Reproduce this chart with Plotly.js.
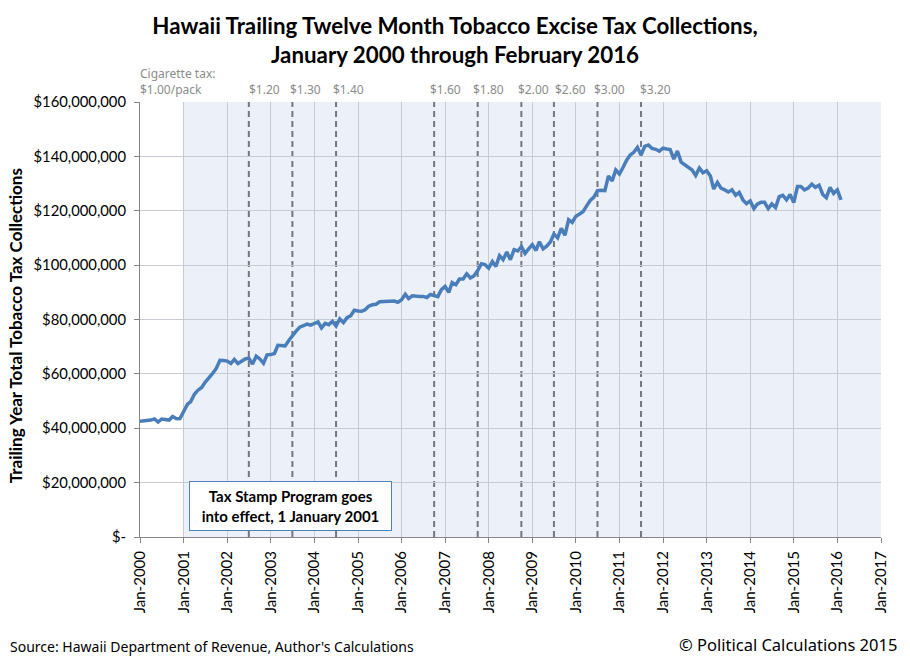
<!DOCTYPE html>
<html>
<head>
<meta charset="utf-8">
<script src="https://cdn.plot.ly/plotly-3.0.1.min.js"></script>
<style>html,body{margin:0;padding:0;background:#fff}</style>
</head>
<body>
<div id="chart" style="width:910px;height:660px"></div>
<script>
// Trailing twelve month collections, $ millions, monthly from Jan 2000
const y2000 = [42.6,42.7,42.9,43.0,43.4,42.3,43.4,43.3,43.0,44.3,43.5,43.6];
const y2001 = [46.0,48.8,49.8,52.5,54.0,55.0,57.0,58.5,60.2,62.0,65.0,64.9];
const y2002 = [64.7,63.8,65.3,63.8,64.6,65.5,65.8,63.6,66.5,65.5,63.9,67.0];
const y2003 = [67.1,67.5,70.5,70.4,70.3,72.3,74.2,75.7,77.2,77.9,78.3,77.9];
const y2004 = [78.5,79.1,76.9,78.6,78.1,79.3,77.6,80.2,78.9,80.7,81.4,83.4];
const y2005 = [83.1,83.0,83.6,84.9,85.4,85.6,86.5,86.6,86.5,86.8,86.8,86.3];
const y2006 = [87.3,89.3,87.7,88.7,88.5,88.5,88.5,88.1,89.2,88.8,88.4,91.0];
const y2007 = [92.2,90.0,93.6,92.8,94.9,94.9,96.8,95.3,96.1,98.0,100.5,100.2];
const y2008 = [98.9,101.3,99.5,103.5,102.0,104.8,102.0,105.7,105.2,106.8,104.3,106.0];
const y2009 = [107.5,105.4,108.6,106.0,107.0,108.5,111.4,110.0,113.5,111.0,116.7,115.7];
const y2010 = [118.0,118.8,119.6,121.8,123.8,125.0,127.4,127.5,127.4,132.8,131.0,135.0];
const y2011 = [133.5,136.0,138.5,140.5,141.5,143.3,140.5,143.7,144.2,142.9,142.6,141.9];
const y2012 = [143.0,142.7,142.5,139.0,142.0,137.9,137.0,135.8,135.0,133.0,135.7,134.0];
const y2013 = [134.7,132.8,128.0,130.4,128.3,127.7,126.9,127.7,125.7,126.7,124.0,122.6];
const y2014 = [123.6,120.8,122.4,123.1,123.1,120.8,122.5,121.2,125.2,125.7,124.0,126.0];
const y2015 = [123.0,128.9,128.9,127.7,128.3,129.8,128.6,129.4,126.0,124.8,128.6,126.4];
const y2016 = [127.7,124.0];
const collections = [].concat(y2000,y2001,y2002,y2003,y2004,y2005,y2006,y2007,y2008,y2009,y2010,y2011,y2012,y2013,y2014,y2015,y2016);

const taxDates = ['2002-07-01','2003-07-01','2004-07-01','2006-10-01','2007-10-01','2008-10-01','2009-07-01','2010-07-01','2011-07-01'];
const taxLabels = ['$1.20','$1.30','$1.40','$1.60','$1.80','$2.00','$2.60','$3.00','$3.20'];

const yTickVals = [0,20,40,60,80,100,120,140,160];
const yTickText = ['$-','$20,000,000','$40,000,000','$60,000,000','$80,000,000','$100,000,000','$120,000,000','$140,000,000','$160,000,000'];

const dates = collections.map((_, i) => {
  const yr = 2000 + Math.floor(i / 12), m = (i % 12) + 1;
  return yr + '-' + String(m).padStart(2, '0') + '-01';
});

const FONT = 'Lato, sans-serif';
const NOTE = '"Noto Sans", sans-serif';
const labelNudge = [-2,-4,-5,-6,-7,-5,-1,-5,-3];

const shapes = [{
  type:'rect', layer:'below', xref:'x', yref:'paper', x0:'2001-01-01', x1:'2017-01-01', y0:0, y1:1,
  fillcolor:'#ECF1F9', line:{width:0}
}].concat(taxDates.map(d => ({
  type:'line', layer:'between', xref:'x', yref:'paper', x0:d, x1:d, y0:0, y1:1,
  line:{color:'#74767F', width:2, dash:'6px,4px'}
})));

const annotations = taxDates.map((d,i) => ({
  xref:'x', yref:'paper', x:d, y:1, xanchor:'left', yanchor:'bottom', yshift:2, xshift:labelNudge[i], showarrow:false,
  text:taxLabels[i], font:{family:NOTE, size:12, color:'#8C8C8C'}
})).concat([
  {xref:'x', yref:'paper', x:'2000-01-01', y:1, xanchor:'left', yanchor:'bottom', xshift:-2, yshift:2, showarrow:false, align:'left',
   text:'Cigarette tax:<br>$1.00/pack', font:{family:NOTE, size:12, color:'#8C8C8C'}},
  {xref:'paper', yref:'paper', x:0.2031, y:0.0724, xanchor:'center', yanchor:'middle', showarrow:false,
   text:'<b>Tax Stamp Program goes<br>into effect, 1 January 2001</b>', font:{family:FONT, size:15, color:'#000'},
   bgcolor:'#FFFFFF', bordercolor:'#4F81BD', borderwidth:1, width:199, height:46},
  {xref:'paper', yref:'paper', x:-0.1781, y:-0.2517, xanchor:'left', yanchor:'middle', showarrow:false,
   text:'Source: Hawaii Department of Revenue, Author\'s Calculations', font:{family:NOTE, size:14, color:'#000'}},
  {xref:'paper', yref:'paper', x:1.0243, y:-0.246, xanchor:'right', yanchor:'middle', showarrow:false,
   text:'© Political Calculations 2015', font:{family:NOTE, size:16.5, color:'#000'}},
  {xref:'paper', yref:'paper', x:-0.1687, y:0.487, xanchor:'center', yanchor:'middle', textangle:-90, showarrow:false,
   text:'<b>Trailing Year Total Tobacco Tax Collections</b>', font:{family:FONT, size:17, color:'#000'}}
]);

const trace = {
  type:'scatter', mode:'lines', x:dates, y:collections,
  line:{color:'#4A7EBB', width:3.5}, hoverinfo:'x+y'
};

const layout = {
  width:910, height:660,
  margin:{l:140, r:29, t:102, b:123},
  paper_bgcolor:'#fff', plot_bgcolor:'#fff',
  showlegend:false,
  font:{family:FONT, color:'#000'},
  title:{text:'<b>Hawaii Trailing Twelve Month Tobacco Excise Tax Collections,<br>January 2000 through February 2016</b>',
    font:{family:FONT, size:22.3, color:'#000'}, x:0.5, xanchor:'center', y:0.948, yanchor:'middle'},
  xaxis:{type:'date', range:['2000-01-01','2017-01-01'], dtick:'M12', tick0:'2000-01-01', tickformat:'%b-%Y',
    tickangle:-90, ticks:'outside', ticklen:5, tickcolor:'#868686', showline:true, linecolor:'#868686', linewidth:1,
    ticklabelstandoff:2,
    showgrid:true, gridcolor:'#C9CBD4', gridwidth:1, tickfont:{family:FONT, size:15, color:'#000'}, zeroline:false},
  yaxis:{range:[0,160], tickmode:'array', tickvals:yTickVals, ticktext:yTickText, ticks:'outside', ticklen:5,
    tickcolor:'#868686', showline:true, linecolor:'#868686', linewidth:1, ticklabelstandoff:5,
    showgrid:true, gridcolor:'#C9CBD4', gridwidth:1, tickfont:{family:FONT, size:14.8, color:'#000'}, zeroline:false},
  shapes, annotations
};

Plotly.newPlot('chart', [trace], layout, {displayModeBar:false, staticPlot:true});
</script>
</body>
</html>
